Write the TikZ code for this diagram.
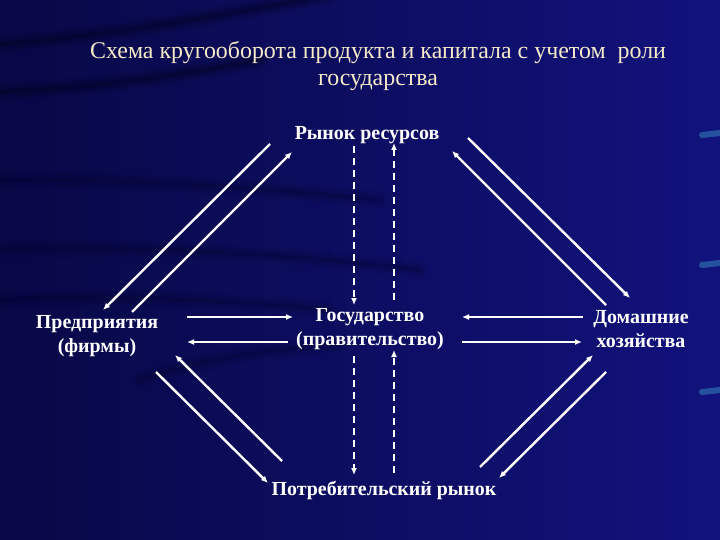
\documentclass[tikz,border=0pt]{standalone}
\usepackage{fontspec}
\setmainfont{Liberation Serif}
\usetikzlibrary{arrows.meta}
\definecolor{bgmid}{RGB}{12,12,108}
\definecolor{bgdark}{RGB}{4,4,40}
\definecolor{bglight}{RGB}{18,18,125}
\definecolor{titlecol}{RGB}{245,235,200}
\tikzset{
  lbl/.style={text=white, font=\fontsize{20}{24}\selectfont\bfseries, align=center, inner sep=1bp},
  flow/.style={draw=white, line width=2.4bp, -{Latex[length=7bp,width=6bp]}},
  dflow/.style={draw=white, line width=2bp, dash pattern=on 7bp off 5bp, -{Latex[length=7bp,width=6bp]}},
  streak/.style={draw=bgdark, line cap=round},
}
\begin{document}
\begin{tikzpicture}[x=1bp,y=-1bp]
% background
\useasboundingbox (0,0) rectangle (720,540);
\shade[left color=bgmid!65!black, right color=bglight] (0,0) rectangle (720,540);
% dark streaks
\foreach \w/\o in {18/0.12,11/0.25,5/0.4}{
  \draw[streak, line width=\w bp, opacity=\o] (-10,45) .. controls (120,35) and (220,15) .. (330,-5);
  \draw[streak, line width=\w bp, opacity=\o] (-10,92) .. controls (100,88) and (180,75) .. (260,60);
  \draw[streak, line width=\w bp, opacity=\o*0.5] (-10,180) .. controls (120,178) and (260,188) .. (380,200);
  \draw[streak, line width=\w bp, opacity=\o*0.5] (-10,250) .. controls (150,245) and (300,255) .. (420,270);
  \draw[streak, line width=\w bp, opacity=\o*0.5] (-10,300) .. controls (120,295) and (240,300) .. (330,310);
  \draw[streak, line width=\w bp, opacity=\o*0.5] (140,380) .. controls (200,360) and (260,350) .. (340,345);
}
% right edge light marks
\foreach \yy in {135,265,392}{
  \draw[line width=6bp, color=bglight!50!cyan!80!white, opacity=0.45, line cap=round] (702,\yy) -- (720,\yy-2);
}
% title
\node[text=titlecol, font=\fontsize{24}{27}\selectfont, align=center] (title) at (378,66)
  {Схема кругооборота продукта и капитала с учетом\ \ роли\\государства};
% nodes
\node[lbl] (rr) at (367,135) {Рынок ресурсов};
\node[lbl] (pr) at (97,336) {Предприятия\\(фирмы)};
\node[lbl] (gov) at (370,329) {Государство\\(правительство)};
\node[lbl] (dh) at (641,329) {Домашние\\хозяйства};
\node[lbl] (pot) at (384,490) {Потребительский рынок};
% connector end points
\coordinate (a1) at (270,144); \coordinate (a2) at (103,310);
\coordinate (b1) at (132,312); \coordinate (b2) at (292,152);
\coordinate (c1) at (468,138); \coordinate (c2) at (630,298);
\coordinate (d1) at (606,305); \coordinate (d2) at (452,151);
\coordinate (e1) at (282,461); \coordinate (e2) at (175,355);
\coordinate (f1) at (156,372); \coordinate (f2) at (268,483);
\coordinate (g1) at (480,467); \coordinate (g2) at (593,355);
\coordinate (h1) at (606,372); \coordinate (h2) at (499,478);
% diagonals
\draw[flow] (a1) -- (a2);
\draw[flow] (b1) -- (b2);
\draw[flow] (c1) -- (c2);
\draw[flow] (d1) -- (d2);
\draw[flow] (e1) -- (e2);
\draw[flow] (f1) -- (f2);
\draw[flow] (g1) -- (g2);
\draw[flow] (h1) -- (h2);
% horizontals
\draw[flow] (187,317) -- (293,317);
\draw[flow] (288,342) -- (187,342);
\draw[flow] (583,317) -- (462,317);
\draw[flow] (462,342) -- (582,342);
% verticals (dashed)
\draw[dflow] (354,146) -- (354,305);
\draw[dflow] (394,300) -- (394,143);
\draw[dflow] (354,356) -- (354,475);
\draw[dflow] (394,473) -- (394,350);
\end{tikzpicture}
\end{document}
